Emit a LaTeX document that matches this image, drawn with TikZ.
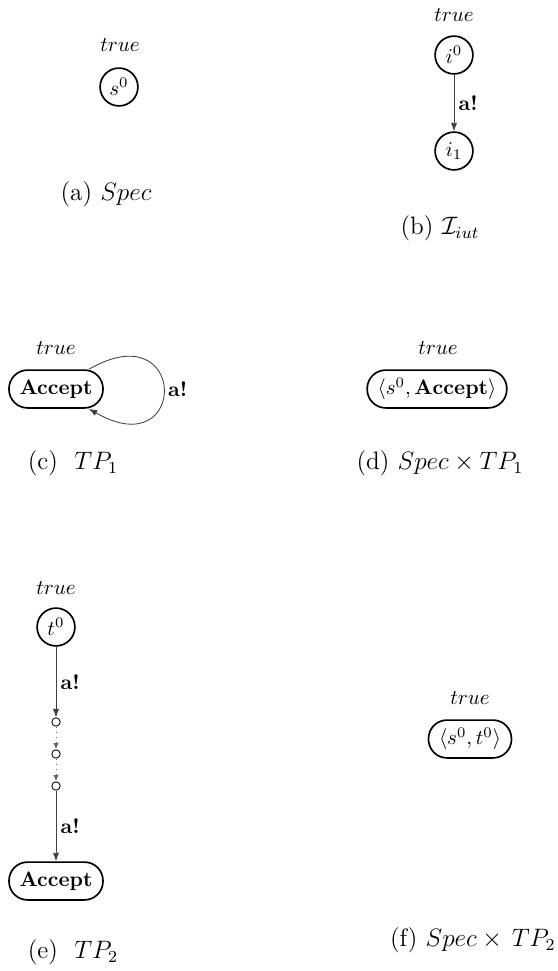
\documentclass[tikz,border=0pt]{standalone}
\usetikzlibrary{arrows.meta}
\begin{document}
\begin{tikzpicture}[x=0.476pt,y=0.476pt,
  st/.style={draw,circle,thick,minimum size=18pt,inner sep=0pt},
  rst/.style={draw,thick,rounded corners=8.8pt,minimum height=18pt,inner xsep=5pt,inner ysep=0pt},
  midst/.style={draw,circle,minimum size=4pt,inner sep=0pt},
  tr/.style={->,draw=black!75,>={Latex[length=4pt,width=3pt]}},
  dtr/.style={->,draw=black!60,dotted,>={Latex[length=3pt,width=2.5pt]}},
  lbl/.style={right,inner sep=2pt,font=\bfseries},
  captxt/.style={inner sep=0pt,font=\large}]
\useasboundingbox (0,0) rectangle (558,-971);
% (a)
\node (ta) at (120,-45) {$true$};
\node[st] (s0) at (119,-87) {$s^0$};
\node[captxt] (capa) at (106,-194) {(a)\ $Spec$};
% (b)
\node (tb) at (454,-15) {$true$};
\node[st] (i0) at (454,-55) {$i^0$};
\node[st] (i1) at (454,-151) {$i_1$};
\draw[tr] (i0) -- node[lbl] {a!} (i1);
\node[captxt] (capb) at (440,-228) {(b)\ $\mathcal{I}_{iut}$};
% (c)
\node (tc) at (56,-348) {$true$};
\node[rst] (acc1) at (56,-389) {\textbf{Accept}};
\draw[tr] (acc1.31) .. controls +(30:115) and +(-30:115) .. node[lbl,pos=0.5] {a!} (acc1.-31);
\node[captxt] (capc) at (73,-463) {(c)\ \ $TP_1$};
% (d)
\node (td) at (438,-348) {$true$};
\node[rst] (sacc) at (437,-389) {$\langle s^0,\mathbf{Accept}\rangle$};
\node[captxt] (capd) at (440,-463) {(d)\ $Spec\times TP_1$};
% (e)
\node (te) at (56,-588) {$true$};
\node[st] (t0) at (56,-627) {$t^0$};
\node[midst] (m1) at (56,-722) {};
\node[midst] (m2) at (56,-754) {};
\node[midst] (m3) at (56,-786) {};
\node[rst] (acc2) at (56,-881) {\textbf{Accept}};
\draw[tr] (t0) -- node[lbl] {a!} (m1);
\draw[dtr] (m1) -- (m2);
\draw[dtr] (m2) -- (m3);
\draw[tr] (m3) -- node[lbl] {a!} (acc2);
\node[captxt] (cape) at (73,-952) {(e)\ \ $TP_2$};
% (f)
\node[captxt,anchor=east] (capf) at (556,-940) {(f)\ $Spec\times\,TP_2$};
\node (tf) at (470,-698) {$true$};
\node[rst] (st0) at (470,-739) {$\langle s^0,t^0\rangle$};
\end{tikzpicture}
\end{document}
